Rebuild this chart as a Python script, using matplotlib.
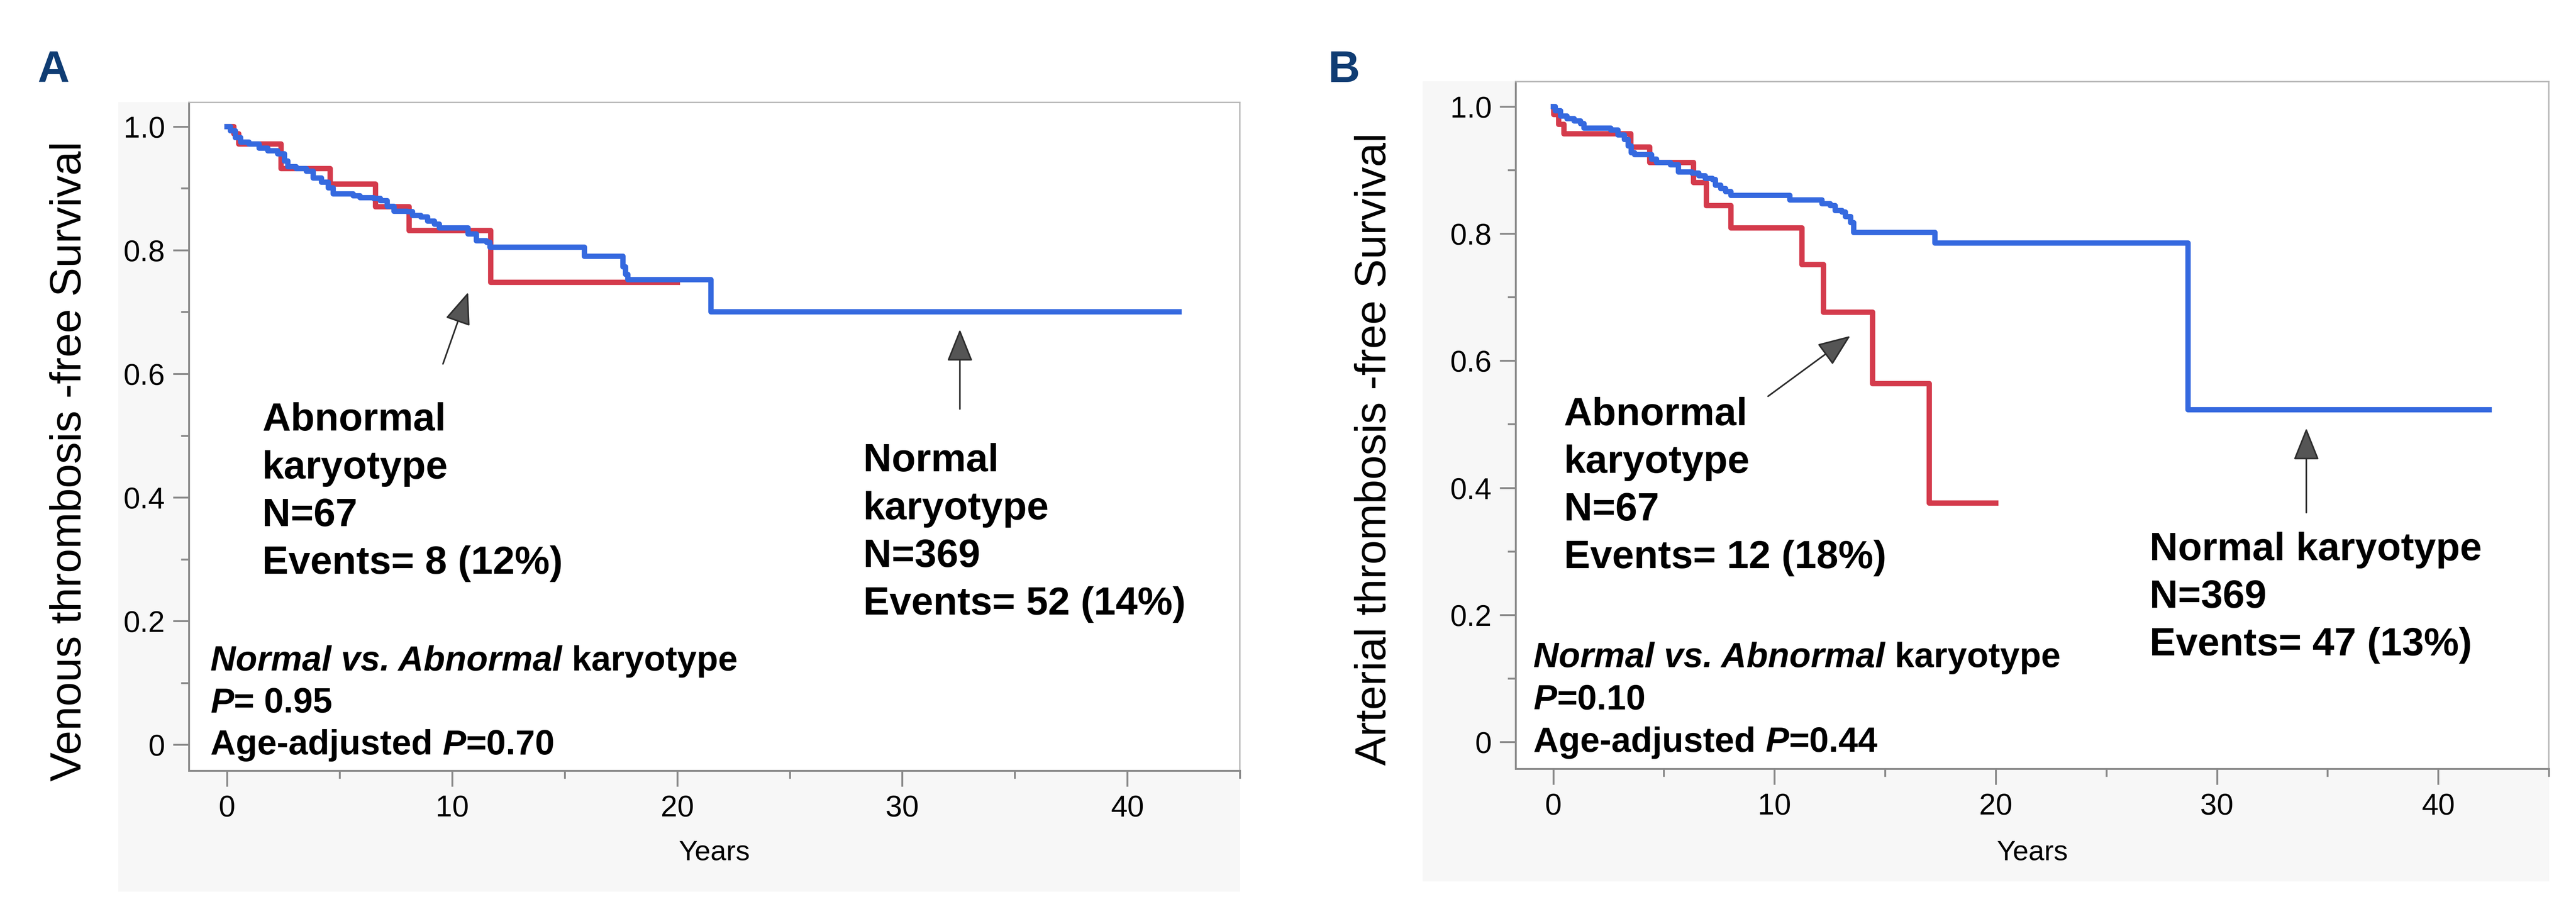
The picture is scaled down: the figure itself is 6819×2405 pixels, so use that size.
import matplotlib
matplotlib.use('Agg')
import matplotlib.pyplot as plt
from matplotlib.patches import Rectangle

plt.rcParams['font.family'] = ['Liberation Sans', 'DejaVu Sans']

# ---------------- data ----------------
# Panel A: venous thrombosis-free survival
A_abn_t = [0, 0.3, 0.52, 2.4, 4.57, 6.59, 8.08, 11.72, 20.0]
A_abn_s = [1.0, 0.988, 0.972, 0.932, 0.907, 0.870, 0.832, 0.748, 0.748]

A_norm_t = [0, 0.15, 0.37, 0.6, 0.97, 1.42, 1.8, 2.25, 2.54, 2.69, 3.07, 3.52,
            3.82, 4.19, 4.49, 4.72, 5.61, 5.91, 6.51, 6.81, 7.11, 7.41, 8.01,
            8.23, 8.61, 8.91, 9.21, 9.43, 10.7, 11.08, 11.53, 11.68, 15.87,
            17.59, 17.7, 17.81, 21.5, 42.3]
A_norm_s = [1.0, 0.993, 0.982, 0.975, 0.972, 0.965, 0.961, 0.956, 0.944, 0.935,
            0.932, 0.928, 0.917, 0.910, 0.901, 0.891, 0.888, 0.885, 0.884, 0.880,
            0.871, 0.863, 0.862, 0.856, 0.854, 0.847, 0.842, 0.836, 0.826, 0.815,
            0.813, 0.805, 0.790, 0.773, 0.761, 0.752, 0.700, 0.700]

# Panel B: arterial thrombosis-free survival
B_abn_t = [0, 0.03, 0.25, 0.48, 3.5, 4.37, 6.35, 6.93, 8.03, 11.25, 12.22, 14.43, 17.0, 20.0]
B_abn_s = [1.0, 0.987, 0.972, 0.957, 0.936, 0.912, 0.880, 0.844, 0.809, 0.751, 0.676, 0.564, 0.376, 0.376]

B_norm_t = [0, 0.1, 0.33, 0.63, 0.94, 1.24, 1.39, 2.61, 2.92, 3.22, 3.38, 3.53,
            3.68, 4.44, 4.67, 5.3, 5.66, 6.27, 6.58, 6.88, 7.19, 7.34, 7.57, 7.80,
            8.03, 10.69, 12.14, 12.52, 12.75, 13.06, 13.21, 13.44, 13.59, 17.25,
            28.7, 42.3]
B_norm_s = [1.0, 0.993, 0.985, 0.981, 0.977, 0.973, 0.966, 0.963, 0.955, 0.948,
            0.938, 0.927, 0.924, 0.917, 0.912, 0.908, 0.897, 0.895, 0.891, 0.887,
            0.885, 0.876, 0.871, 0.866, 0.860, 0.853, 0.847, 0.844, 0.836, 0.834,
            0.827, 0.817, 0.802, 0.785, 0.523, 0.523]

x_ticks = [0, 10, 20, 30, 40]
x_minor = [5, 15, 25, 35, 45]
y_ticks = [0, 0.2, 0.4, 0.6, 0.8, 1.0]
y_ticklabels = ['0', '0.2', '0.4', '0.6', '0.8', '1.0']
y_minor = [0.1, 0.3, 0.5, 0.7, 0.9]

RED = '#d43b4c'
BLUE = '#3569df'

# ---------------- layout ----------------
W, H, DPI = 6819, 2405, 300
fig = plt.figure(figsize=(W / DPI, H / DPI), dpi=DPI)
fig.patch.set_facecolor('white')


def px_rect(x0, y0, x1, y1):
    return [x0 / W, 1 - y1 / H, (x1 - x0) / W, (y1 - y0) / H]


def bg(x0, y0, x1, y1):
    fig.add_artist(Rectangle((x0 / W, 1 - y1 / H), (x1 - x0) / W, (y1 - y0) / H,
                             transform=fig.transFigure, facecolor='#f7f7f7',
                             edgecolor='none', zorder=-10))


bg(313, 270, 3283, 2359)
bg(3766, 215, 6748, 2332)

axA = fig.add_axes(px_rect(500, 271, 3282, 2039))
axB = fig.add_axes(px_rect(4012, 216, 6747, 2034))


def style_axes(ax):
    ax.set_facecolor('white')
    ax.set_xlim(-1.7, 44.95)
    ax.set_ylim(-0.042, 1.039)
    ax.set_xticks(x_ticks)
    ax.set_xticks(x_minor, minor=True)
    ax.set_yticks(y_ticks)
    ax.set_yticklabels(y_ticklabels)
    ax.set_yticks(y_minor, minor=True)
    ax.tick_params(axis='both', which='major', length=10, width=1.2,
                   color='#8a8a8a', labelsize=19, direction='out')
    ax.tick_params(axis='both', which='minor', length=5, width=1.2,
                   color='#8a8a8a', direction='out')
    ax.tick_params(axis='x', which='major', pad=5)
    ax.tick_params(axis='y', which='major', pad=5)
    for s in ['left', 'bottom']:
        ax.spines[s].set_color('#8a8a8a')
        ax.spines[s].set_linewidth(1.2)
    for s in ['top', 'right']:
        ax.spines[s].set_color('#b8b8b8')
        ax.spines[s].set_linewidth(0.9)
    ax.set_xlabel('Years', fontsize=18)
    ax.xaxis.label.set_va('baseline')


def rich_line(ax, x, y, segments, size):
    prev = None
    for txt, st in segments:
        kw = dict(fontsize=size, fontweight='bold',
                  fontstyle='italic' if st == 'i' else 'normal', color='black')
        if prev is None:
            prev = ax.text(x, y, txt, va='baseline', ha='left', **kw)
        else:
            prev = ax.annotate(txt, xy=(1, 0), xycoords=prev, va='bottom',
                               ha='left', **kw)


def block(ax, x, y, lines, dy, size):
    for i, segs in enumerate(lines):
        rich_line(ax, x, y - i * dy, segs, size)


def arrow(ax, tail, tip):
    ax.annotate('', xy=tip, xytext=tail,
                arrowprops=dict(arrowstyle='-|>,head_length=0.9,head_width=0.36',
                                mutation_scale=20, fc='#555555', ec='#2e2e2e',
                                lw=1.0, shrinkA=0, shrinkB=0))


# ---------------- panel A ----------------
style_axes(axA)
axA.step(A_abn_t, A_abn_s, where='post', color=RED, lw=3.4, zorder=3)
axA.step(A_norm_t, A_norm_s, where='post', color=BLUE, lw=3.4, zorder=4)
axA.set_ylabel('Venous thrombosis -free Survival', fontsize=27.7)
axA.yaxis.set_label_coords(-0.1136, 0.463)
axA.yaxis.label.set_va('center')
axA.xaxis.set_label_coords(0.5, -0.134)

block(axA, 1.56, 0.508,
      [[('Abnormal', 'n')], [('karyotype', 'n')], [('N=67', 'n')],
       [('Events= 8 (12%)', 'n')]], 0.0771, 25)
block(axA, 28.26, 0.442,
      [[('Normal', 'n')], [('karyotype', 'n')], [('N=369', 'n')],
       [('Events= 52 (14%)', 'n')]], 0.0771, 25)
block(axA, -0.74, 0.120,
      [[('Normal vs. Abnormal', 'i'), (' karyotype', 'n')],
       [('P', 'i'), ('= 0.95', 'n')],
       [('Age-adjusted ', 'n'), ('P', 'i'), ('=0.70', 'n')]], 0.068, 22.3)
arrow(axA, (9.59, 0.616), (10.71, 0.732))
arrow(axA, (32.56, 0.543), (32.56, 0.672))

# ---------------- panel B ----------------
style_axes(axB)
axB.step(B_abn_t, B_abn_s, where='post', color=RED, lw=3.4, zorder=3)
axB.step(B_norm_t, B_norm_s, where='post', color=BLUE, lw=3.4, zorder=4)
axB.set_ylabel('Arterial thrombosis -free Survival', fontsize=27.7)
axB.yaxis.set_label_coords(-0.1369, 0.465)
axB.yaxis.label.set_va('center')
axB.xaxis.set_label_coords(0.5, -0.1326)

block(axB, 0.48, 0.4985,
      [[('Abnormal', 'n')], [('karyotype', 'n')], [('N=67', 'n')],
       [('Events= 12 (18%)', 'n')]], 0.0749, 25)
block(axB, 26.96, 0.286,
      [[('Normal karyotype', 'n')], [('N=369', 'n')],
       [('Events= 47 (13%)', 'n')]], 0.0749, 25)
block(axB, -0.89, 0.118,
      [[('Normal vs. Abnormal', 'i'), (' karyotype', 'n')],
       [('P', 'i'), ('=0.10', 'n')],
       [('Age-adjusted ', 'n'), ('P', 'i'), ('=0.44', 'n')]], 0.0665, 22.3)
arrow(axB, (9.71, 0.544), (13.43, 0.639))
arrow(axB, (34.04, 0.361), (34.04, 0.494))

# ---------------- panel letters ----------------
fig.text(99 / W, 1 - 217 / H, 'A', fontsize=28, fontweight='bold',
         color='#0f3c73', ha='left', va='baseline')
fig.text(3515 / W, 1 - 217 / H, 'B', fontsize=28, fontweight='bold',
         color='#0f3c73', ha='left', va='baseline')

fig.savefig('out.png', dpi=DPI, facecolor='white')
